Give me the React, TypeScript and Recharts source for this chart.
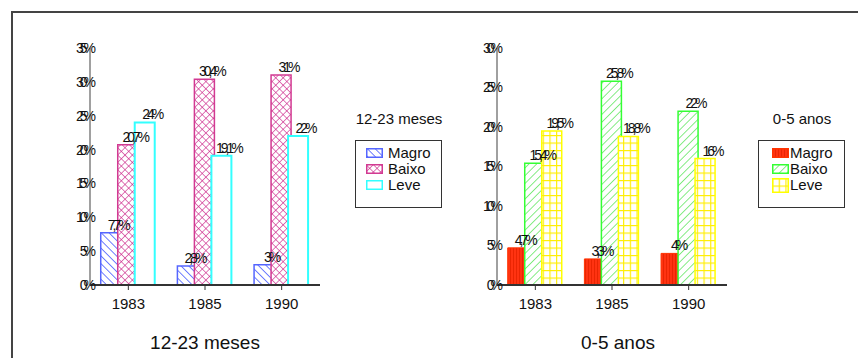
import React from "react";
import { BarChart, Bar, XAxis, YAxis, LabelList } from "recharts";

const FONT = '"Liberation Sans", Arial, sans-serif';

const years = ["1983", "1985", "1990"];
const seriesNames = ["Magro", "Baixo", "Leve"];

// 12-23 meses
const magro12 = [7.7, 2.8, 3];
const baixo12 = [20.7, 30.4, 31];
const leve12 = [24, 19.1, 22];
const ticks12 = [0, 5, 10, 15, 20, 25, 30, 35];

// 0-5 anos
const magro05 = [4.7, 3.3, 4];
const baixo05 = [15.4, 25.8, 22];
const leve05 = [19.5, 18.8, 16];
const ticks05 = [0, 5, 10, 15, 20, 25, 30];

const build = (a: number[], b: number[], c: number[]) =>
  years.map((year, i) => ({ year, Magro: a[i], Baixo: b[i], Leve: c[i] }));

const data12 = build(magro12, baixo12, leve12);
const data05 = build(magro05, baixo05, leve05);

const styles12 = [
  { fill: "url(#pMagroL)", stroke: "#5566ff", strokeWidth: 1.5 },
  { fill: "url(#pBaixoL)", stroke: "#d23a92", strokeWidth: 1.5 },
  { fill: "#ffffff", stroke: "#33ffff", strokeWidth: 2 },
];
const styles05 = [
  { fill: "url(#pMagroR)", stroke: "#ff3300", strokeWidth: 1 },
  { fill: "url(#pBaixoR)", stroke: "#33ff33", strokeWidth: 1.5 },
  { fill: "url(#pLeveR)", stroke: "#ffff00", strokeWidth: 1.5 },
];

const pct = (v: number) => String(v).replace(".", ",") + "%";

const BarLabel = (props: any) => {
  const { x, y, width, value } = props;
  return (
    <text
      x={x + width / 2 + 7}
      y={y - 3}
      textAnchor="middle"
      fontSize={14}
      letterSpacing={-3}
      fill="#111"
      fontFamily={FONT}
    >
      {pct(value)}
    </text>
  );
};

const YTick = (props: any) => (
  <text
    x={props.x}
    y={props.y}
    dy="0.355em"
    textAnchor="end"
    fontSize={14}
    letterSpacing={-4}
    fill="#111"
    fontFamily={FONT}
  >
    {props.payload.value}%
  </text>
);

function Panel({ data, ticks, styles, left, right, defs }: any) {
  return (
    <BarChart
      width={858}
      height={358}
      data={data}
      margin={{ top: 48, right, bottom: 43, left }}
      barCategoryGap="14%"
      barGap={-3}
    >
      <defs>{defs}</defs>
      <XAxis
        dataKey="year"
        height={30}
        axisLine={{ stroke: "#333", strokeWidth: 2 }}
        tickLine={{ stroke: "#333", strokeWidth: 1 }}
        tickSize={5}
        tickMargin={8}
        tick={{ fontSize: 15, fill: "#111", fontFamily: FONT }}
      />
      <YAxis
        width={40}
        domain={[0, ticks[ticks.length - 1]]}
        ticks={ticks}
        interval={0}
        axisLine={{ stroke: "#808080", strokeWidth: 1.5 }}
        tickLine={false}
        tickSize={0}
        tickMargin={-2}
        tick={<YTick />}
      />
      {seriesNames.map((name, i) => (
        <Bar key={name} dataKey={name} isAnimationActive={false} {...styles[i]}>
          <LabelList dataKey={name} content={<BarLabel />} />
        </Bar>
      ))}
    </BarChart>
  );
}

const defsLeft = (
  <>
    <pattern id="pMagroL" patternUnits="userSpaceOnUse" width={5.5} height={5.5} patternTransform="rotate(-45)">
      <rect width={5.5} height={5.5} fill="#fff" />
      <line x1={0} y1={0} x2={0} y2={5.5} stroke="#2038ff" strokeWidth={1.3} />
    </pattern>
    <pattern id="pBaixoL" patternUnits="userSpaceOnUse" width={5.2} height={5.2} patternTransform="rotate(45)">
      <rect width={5.2} height={5.2} fill="#fff" />
      <line x1={0} y1={0} x2={0} y2={5.2} stroke="#cc2288" strokeWidth={1.2} />
      <line x1={0} y1={0} x2={5.2} y2={0} stroke="#cc2288" strokeWidth={1.2} />
    </pattern>
  </>
);

const defsRight = (
  <>
    <pattern id="pMagroR" patternUnits="userSpaceOnUse" width={3} height={3}>
      <rect width={3} height={3} fill="#ff3311" />
      <line x1={0.5} y1={0} x2={0.5} y2={3} stroke="#e42200" strokeWidth={0.8} />
    </pattern>
    <pattern id="pBaixoR" patternUnits="userSpaceOnUse" width={5.5} height={5.5} patternTransform="rotate(45)">
      <rect width={5.5} height={5.5} fill="#fff" />
      <line x1={0} y1={0} x2={0} y2={5.5} stroke="#22dd22" strokeWidth={1.1} />
    </pattern>
    <pattern id="pLeveR" patternUnits="userSpaceOnUse" width={6.7} height={7.5}>
      <rect width={6.7} height={7.5} fill="#fff" />
      <line x1={0.5} y1={0} x2={0.5} y2={7.5} stroke="#ffee00" strokeWidth={1.3} />
      <line x1={0} y1={0.5} x2={6.7} y2={0.5} stroke="#ffee00" strokeWidth={1.3} />
    </pattern>
  </>
);

function LegendBox({ title, styles, left, top, swatchLeft, gap, tall }: any) {
  return (
    <div style={{ position: "absolute", left, top, fontFamily: FONT, fontSize: 15, color: "#111" }}>
      <div style={{ lineHeight: "18px", whiteSpace: "nowrap", textAlign: "center", width: 88 }}>{title}</div>
      <div
        style={{
          marginTop: 12,
          width: 87,
          height: 68,
          boxSizing: "border-box",
          border: "1.5px solid #333",
          paddingTop: 4,
          paddingLeft: swatchLeft,
        }}
      >
        {seriesNames.map((name, i) => (
          <div key={name} style={{ display: "flex", alignItems: "center", height: 16, whiteSpace: "nowrap" }}>
            <svg width={17} height={tall && i === 2 ? 15 : 10} style={{ marginRight: gap, flex: "none" }}>
              <rect
                x={0.75}
                y={0.75}
                width={15.5}
                height={(tall && i === 2 ? 15 : 10) - 1.5}
                fill={styles[i].fill}
                stroke={styles[i].stroke}
                strokeWidth={1.5}
              />
            </svg>
            <span style={{ lineHeight: "16px" }}>{name}</span>
          </div>
        ))}
      </div>
    </div>
  );
}

export default function App() {
  return (
    <div
      style={{
        position: "absolute",
        left: 0,
        top: 0,
        width: 858,
        height: 358,
        overflow: "hidden",
        background: "#fff",
        fontFamily: FONT,
      }}
    >
      <div
        style={{
          position: "absolute",
          left: 11,
          top: 11,
          width: 900,
          height: 400,
          borderLeft: "2px solid #444",
          borderTop: "2px solid #444",
        }}
      />
      <div
        style={{
          position: "absolute",
          left: 162,
          top: -16,
          fontSize: 16,
          lineHeight: "16px",
          fontWeight: "bold",
          whiteSpace: "nowrap",
          color: "#111",
        }}
      >
        Comparação do estado nutricional entre faixas etárias (1983, 1985, 1990)
      </div>
      <div style={{ position: "absolute", left: 0, top: 0 }}>
        <Panel data={data12} ticks={ticks12} styles={styles12} left={50} right={538} defs={defsLeft} />
      </div>
      <div style={{ position: "absolute", left: 0, top: 0 }}>
        <Panel data={data05} ticks={ticks05} styles={styles05} left={457} right={131} defs={defsRight} />
      </div>
      <LegendBox title="12-23 meses" styles={styles12} left={355} top={110} swatchLeft={10} gap={5} />
      <LegendBox title="0-5 anos" styles={styles05} left={758} top={110} swatchLeft={13} gap={1} tall />
      <div style={{ position: "absolute", left: 105, width: 200, top: 332, textAlign: "center", fontSize: 19, lineHeight: "22px", color: "#111" }}>
        12-23 meses
      </div>
      <div style={{ position: "absolute", left: 518, width: 200, top: 332, textAlign: "center", fontSize: 19, lineHeight: "22px", color: "#111" }}>
        0-5 anos
      </div>
    </div>
  );
}
